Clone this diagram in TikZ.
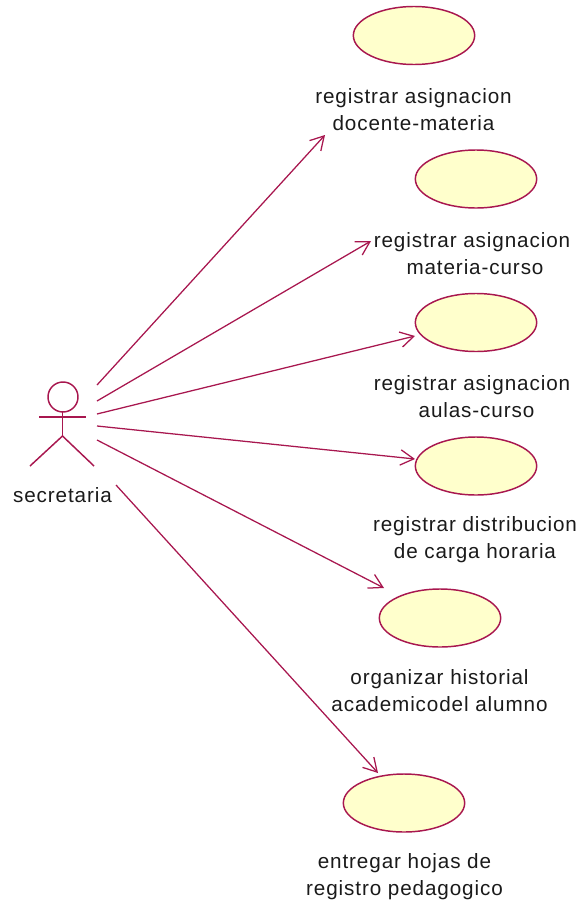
\documentclass[tikz,border=0pt]{standalone}
\usepackage{fontspec}
\setmainfont{Liberation Sans}[LetterSpace=4.3]
\usetikzlibrary{arrows.meta,shapes.geometric}
\definecolor{umlline}{HTML}{A8174F}
\definecolor{umlfill}{HTML}{FFFFCC}
\definecolor{umltext}{HTML}{1A1A1A}
\tikzset{
  usecase/.style={ellipse,draw=umlline,fill=umlfill,line width=1.1pt,minimum width=91pt,minimum height=43.5pt,inner sep=0pt},
  caption/.style={align=center,text=umltext,font=\fontsize{15.5}{20.4}\selectfont,inner sep=0pt},
  limb/.style={draw=umlline,line width=1.1pt},
  assoc/.style={draw=umlline,line width=.95pt,-{Straight Barb[length=10pt,width=11.5pt,line width=.95pt]}}
}
\begin{document}
\begin{tikzpicture}[x=.75pt,y=-.75pt]
\useasboundingbox (0,0) rectangle (585,903);
\node[usecase] (u1) at (414,35.5) {};
\node[usecase] (u2) at (476,179) {};
\node[usecase] (u3) at (476,322.5) {};
\node[usecase] (u4) at (476,466) {};
\node[usecase] (u5) at (440,618) {};
\node[usecase] (u6) at (404,803) {};
\node[caption] (t1) at (413.5,110) {registrar asignacion\\docente-materia};
\node[caption] (t2) at (472,253.5) {registrar asignacion\\\hspace*{4.5pt}materia-curso};
\node[caption] (t3) at (472,396.5) {registrar asignacion\\\hspace*{6.75pt}aulas-curso};
\node[caption] (t4) at (475,540) {registrar distribucion\\de carga horaria};
\node[caption] (t5) at (439.5,691) {organizar historial\\academicodel alumno};
\node[caption] (t6) at (404.5,877) {entregar hojas de\\registro pedagogico};
\node[caption] (ta) at (62.5,495) {secretaria};
% actor
\draw[limb] (63,397) circle (15);
\coordinate (neck) at (62.5,412);
\coordinate (hip) at (62.5,436);
\coordinate (handl) at (39,417);
\coordinate (handr) at (86,417);
\coordinate (footl) at (30,466);
\coordinate (footr) at (94,466);
\draw[limb] (neck) -- (hip);
\draw[limb] (handl) -- (handr);
\draw[limb] (footl) -- (hip) -- (footr);
% associations
\coordinate (s1) at (97,385); \coordinate (e1) at (325,135);
\coordinate (s2) at (97,401); \coordinate (e2) at (371,241);
\coordinate (s3) at (97,414); \coordinate (e3) at (415,336);
\coordinate (s4) at (97,426); \coordinate (e4) at (415,459);
\coordinate (s5) at (97,440); \coordinate (e5) at (384,588);
\coordinate (s6) at (116,485); \coordinate (e6) at (378,773);
\foreach \i in {1,...,6} \draw[assoc] (s\i) -- (e\i);
\end{tikzpicture}
\end{document}
